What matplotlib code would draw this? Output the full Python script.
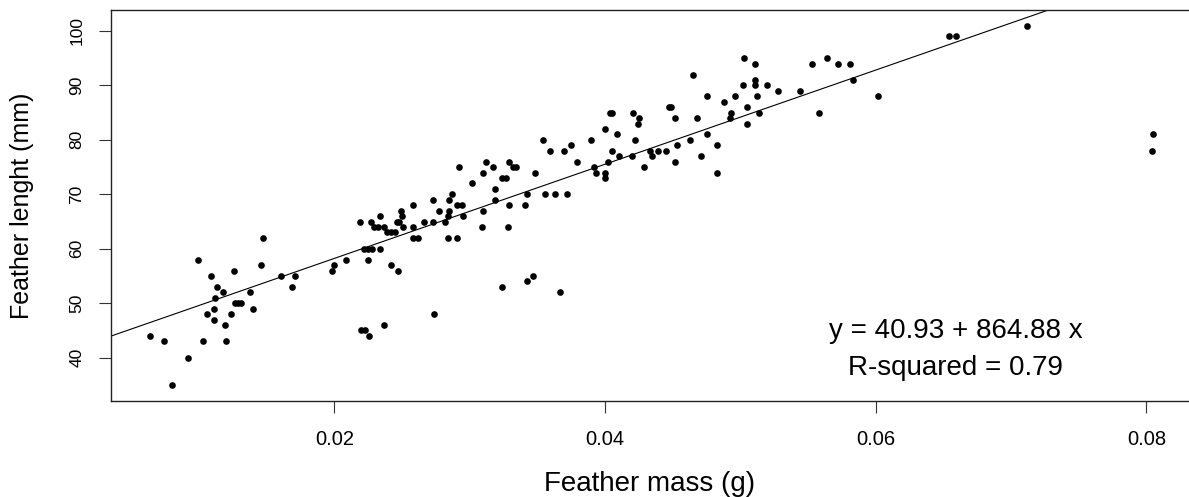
import matplotlib
matplotlib.use("Agg")
import matplotlib.pyplot as plt

plt.rcParams['font.family'] = ['Liberation Sans', 'DejaVu Sans']

# feather mass (g) / feather length (mm)
mass = [
    0.0147, 0.0099, 0.0146, 0.0126, 0.0109, 0.0161, 0.0171, 0.0113, 0.0169, 0.0118,
    0.0138, 0.0112, 0.0127, 0.0129, 0.0131, 0.0111, 0.0140, 0.0106, 0.0124, 0.0111,
    0.0119, 0.0064, 0.0074, 0.0103, 0.0120, 0.0092, 0.0080,
    0.0292, 0.0312, 0.0317, 0.0310, 0.0302, 0.0319, 0.0287, 0.0285, 0.0273, 0.0319,
    0.0258, 0.0291, 0.0294, 0.0249, 0.0277, 0.0285, 0.0310, 0.0234, 0.0250, 0.0284,
    0.0295, 0.0219, 0.0227, 0.0246, 0.0248, 0.0266, 0.0273, 0.0282, 0.0229, 0.0232,
    0.0237, 0.0251, 0.0258, 0.0309, 0.0239, 0.0242, 0.0245, 0.0258, 0.0262, 0.0284,
    0.0291, 0.0222, 0.0225, 0.0228, 0.0234, 0.0209, 0.0225, 0.0200, 0.0242, 0.0198,
    0.0247, 0.0274, 0.0237, 0.0220, 0.0223, 0.0226,
    0.0404, 0.0405, 0.0421, 0.0425, 0.0424, 0.0400, 0.0409, 0.0354, 0.0390, 0.0422,
    0.0375, 0.0359, 0.0370, 0.0405, 0.0433, 0.0439, 0.0445, 0.0410, 0.0420, 0.0435,
    0.0453, 0.0329, 0.0379, 0.0402, 0.0452, 0.0332, 0.0334, 0.0429, 0.0348, 0.0393,
    0.0392, 0.0400, 0.0400, 0.0324, 0.0327, 0.0342, 0.0356, 0.0363, 0.0372, 0.0329,
    0.0341, 0.0328, 0.0324, 0.0342, 0.0347, 0.0367, 0.0452,
    0.0503, 0.0511, 0.0465, 0.0553, 0.0564, 0.0572, 0.0581, 0.0583, 0.0511, 0.0502,
    0.0511, 0.0520, 0.0528, 0.0544, 0.0475, 0.0496, 0.0512, 0.0488, 0.0447, 0.0449,
    0.0493, 0.0505, 0.0468, 0.0492, 0.0514, 0.0505, 0.0602, 0.0558, 0.0475, 0.0463,
    0.0483, 0.0471, 0.0483,
    0.0654, 0.0659, 0.0712, 0.0805, 0.0804,
]
length = [
    62, 58, 57, 56, 55, 55, 55, 53, 53, 52,
    52, 51, 50, 50, 50, 49, 49, 48, 48, 47,
    46, 44, 43, 43, 43, 40, 35,
    75, 76, 75, 74, 72, 71, 70, 69, 69, 69,
    68, 68, 68, 67, 67, 67, 67, 66, 66, 66,
    66, 65, 65, 65, 65, 65, 65, 65, 64, 64,
    64, 64, 64, 64, 63, 63, 63, 62, 62, 62,
    62, 60, 60, 60, 60, 58, 58, 57, 57, 56,
    56, 48, 46, 45, 45, 44,
    85, 85, 85, 84, 83, 82, 81, 80, 80, 80,
    79, 78, 78, 78, 78, 78, 78, 77, 77, 77,
    79, 76, 76, 76, 76, 75, 75, 75, 74, 74,
    75, 74, 73, 73, 73, 70, 70, 70, 70, 68,
    68, 64, 53, 54, 55, 52, 84,
    95, 94, 92, 94, 95, 94, 94, 91, 91, 90,
    90, 90, 89, 89, 88, 88, 88, 87, 86, 86,
    85, 86, 84, 84, 85, 83, 88, 85, 81, 80,
    79, 77, 74,
    99, 99, 101, 81, 78,
]

# fitted model as printed on the chart
intercept = 40.93
slope = 864.88
r_squared = 0.79

xticks = [0.02, 0.04, 0.06, 0.08]
xtick_labels = ['0.02', '0.04', '0.06', '0.08']
yticks = [40, 50, 60, 70, 80, 90, 100]

fig = plt.figure(figsize=(11.89, 4.97), dpi=100, facecolor='white')
ax = fig.add_axes([0.0934, 0.1938, 0.9066, 0.7855])

ax.plot(mass, length, 'o', color='black', markersize=4.8, markeredgewidth=0)
ax.axline((0, intercept), slope=slope, color='black', lw=0.8)

ax.set_xlim(0.00351, 0.08314)
ax.set_ylim(32.1, 103.8)

ax.set_xticks(xticks)
ax.set_xticklabels(xtick_labels)
ax.set_yticks(yticks)
ax.set_yticklabels([str(v) for v in yticks])

ax.tick_params(axis='x', direction='out', length=8.3, width=0.8,
               labelsize=14.5, pad=12.5, color='#333333')
ax.tick_params(axis='y', direction='out', length=8.3, width=0.8,
               labelsize=12.5, pad=11, labelrotation=90, color='#333333')
for lab in ax.get_yticklabels():
    lab.set_va('center')

for side in ['left', 'bottom', 'top']:
    ax.spines[side].set_linewidth(1.0)
    ax.spines[side].set_color('#222222')
ax.spines['right'].set_visible(False)

ax.set_xlabel('Feather mass (g)', fontsize=20)
ax.xaxis.set_label_coords(0.5, -0.179)
ax.set_ylabel('Feather lenght (mm)', fontsize=18)
ax.yaxis.set_label_coords(-0.0719, 0.5)

ax.text(0.0659, 43.6, 'y = %.2f + %.2f x' % (intercept, slope),
        fontsize=20, ha='center', va='baseline')
ax.text(0.0659, 36.8, 'R-squared = %.2f' % r_squared,
        fontsize=20, ha='center', va='baseline')

fig.savefig('out.png', dpi=100, facecolor='white')
